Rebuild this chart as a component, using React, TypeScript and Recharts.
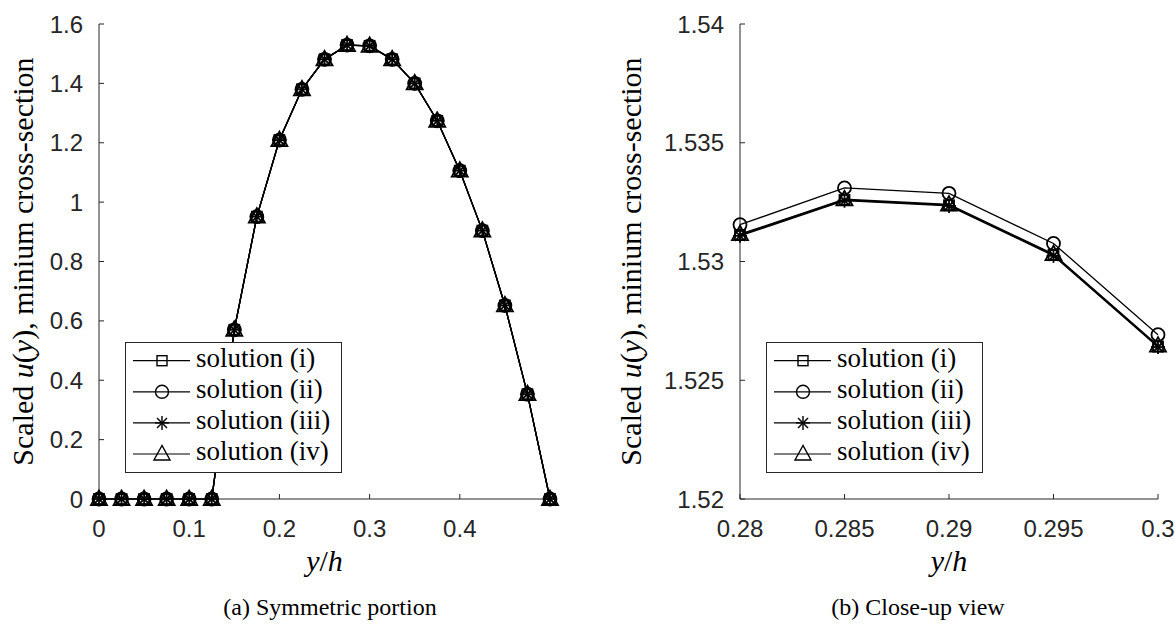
import { LineChart, Line, XAxis, YAxis, Legend } from "recharts";

// (a) half channel, sampled every 0.025 in y/h
const ySym = [
  0, 0.025, 0.05, 0.075, 0.1, 0.125, 0.15, 0.175, 0.2, 0.225, 0.25,
  0.275, 0.3, 0.325, 0.35, 0.375, 0.4, 0.425, 0.45, 0.475, 0.5,
];
// scaled u(y); the four solutions coincide at this scale
const uSym = [
  0, 0, 0, 0, 0, 0, 0.57, 0.951, 1.209, 1.38, 1.481,
  1.529, 1.5265, 1.481, 1.4, 1.274, 1.106, 0.904, 0.652, 0.353, 0,
];

// (b) close-up around the peak
const yZoom = [0.28, 0.285, 0.29, 0.295, 0.3];
const uZoomI = [1.53112, 1.53259, 1.53237, 1.53028, 1.52642];
const uZoomII = [1.53155, 1.5331, 1.53287, 1.53076, 1.52692];
const uZoomIII = [1.53108, 1.53256, 1.53234, 1.53024, 1.5264];
const uZoomIV = [1.53115, 1.53262, 1.5324, 1.53031, 1.52646];

const symTicksX = [0, 0.1, 0.2, 0.3, 0.4];
const symTicksY = [0, 0.2, 0.4, 0.6, 0.8, 1, 1.2, 1.4, 1.6];
const zoomTicksX = [0.28, 0.285, 0.29, 0.295, 0.3];
const zoomTicksY = [1.52, 1.525, 1.53, 1.535, 1.54];

type MarkerKind = "square" | "circle" | "asterisk" | "triangle";

const SERIES: { key: string; name: string; marker: MarkerKind }[] = [
  { key: "s1", name: "solution (i)", marker: "square" },
  { key: "s2", name: "solution (ii)", marker: "circle" },
  { key: "s3", name: "solution (iii)", marker: "asterisk" },
  { key: "s4", name: "solution (iv)", marker: "triangle" },
];

const symData = ySym.map((x, i) => ({
  x,
  s1: uSym[i],
  s2: uSym[i],
  s3: uSym[i],
  s4: uSym[i],
}));

const zoomData = yZoom.map((x, i) => ({
  x,
  s1: uZoomI[i],
  s2: uZoomII[i],
  s3: uZoomIII[i],
  s4: uZoomIV[i],
}));

const H = 626;
const AXIS = "#262626";
const SERIF = "'Liberation Serif'";
const SANS = "'Liberation Sans', Arial, Helvetica, sans-serif";

// serif text used for titles, captions and legend entries
const serifText = (size: number) => ({ fontFamily: SERIF, fontSize: size, fill: "#000" });

function Marker({ kind, cx, cy, sw = 1.5 }: { kind: MarkerKind; cx: number; cy: number; sw?: number }) {
  const st = { stroke: "#000", strokeWidth: sw, fill: "none" };
  if (kind === "square") return <rect x={cx - 5} y={cy - 5} width={10} height={10} {...st} />;
  if (kind === "circle") return <circle cx={cx} cy={cy} r={6.5} {...st} />;
  if (kind === "triangle")
    return <polygon points={`${cx},${cy - 8.5} ${cx - 8},${cy + 6} ${cx + 8},${cy + 6}`} {...st} />;
  return (
    <g {...st}>
      <line x1={cx - 7} y1={cy} x2={cx + 7} y2={cy} />
      <line x1={cx} y1={cy - 7} x2={cx} y2={cy + 7} />
      <line x1={cx - 5} y1={cy - 5} x2={cx + 5} y2={cy + 5} />
      <line x1={cx - 5} y1={cy + 5} x2={cx + 5} y2={cy - 5} />
    </g>
  );
}

function LegendBox({ payload }: any) {
  const items = payload ?? [];
  return (
    <svg width={217} height={131} style={{ display: "block" }}>
      <rect x={0.5} y={0.5} width={216} height={130} fill="#fff" stroke={AXIS} />
      {items.map((entry: any, i: number) => {
        const s = SERIES.find((d) => d.key === entry.dataKey) ?? SERIES[i];
        const cy = 18.7 + i * 31.1;
        return (
          <g key={s.key}>
            <line x1={8} x2={65} y1={cy} y2={cy} stroke="#000" strokeWidth={1.2} />
            <Marker kind={s.marker} cx={37} cy={cy} sw={1.4} />
            <text x={71} y={cy + 6} style={serifText(27)}>
              {entry.value}
            </text>
          </g>
        );
      })}
    </svg>
  );
}

function YTitle({ titleX }: any) {
  const midY = 261.5;
  return (
    <text
      x={titleX}
      y={midY}
      transform={`rotate(-90 ${titleX} ${midY})`}
      textAnchor="middle"
      style={serifText(30)}
    >
      {"Scaled "}
      <tspan fontStyle="italic">u</tspan>
      {"("}
      <tspan fontStyle="italic">y</tspan>
      {"), minium cross-section"}
    </text>
  );
}

function XTitles({ midX, captionX, caption }: any) {
  return (
    <g>
      <text x={midX} y={571} textAnchor="middle" style={serifText(30)}>
        <tspan fontStyle="italic">y</tspan>
        {"/"}
        <tspan fontStyle="italic">h</tspan>
      </text>
      <text x={captionX} y={615} textAnchor="middle" style={serifText(24)}>
        {caption}
      </text>
    </g>
  );
}

interface PanelProps {
  left: number;
  width: number;
  axisWidth: number;
  rightGap: number;
  data: any[];
  xDomain: [number, number];
  xTicks: number[];
  yDomain: [number, number];
  yTicks: number[];
  caption: string;
  captionX: number;
  titleX: number;
}

function Panel(p: PanelProps) {
  const plotW = p.width - p.axisWidth - p.rightGap;
  const tick = { fill: AXIS, fontSize: 24, fontFamily: SANS };
  return (
    <div style={{ position: "absolute", left: p.left, top: 0 }}>
      <LineChart
        width={p.width}
        height={H}
        data={p.data}
        margin={{ top: 24, right: p.rightGap, bottom: 0, left: 0 }}
      >
        <XAxis
          type="number"
          dataKey="x"
          domain={p.xDomain}
          ticks={p.xTicks}
          interval={0}
          height={127}
          tickSize={-5}
          tickMargin={26}
          stroke={AXIS}
          tick={tick}
          label={
            <XTitles midX={p.axisWidth + plotW / 2} captionX={p.captionX} caption={p.caption} />
          }
        />
        <YAxis
          type="number"
          domain={p.yDomain}
          ticks={p.yTicks}
          interval={0}
          width={p.axisWidth}
          tickSize={-5}
          tickMargin={21}
          stroke={AXIS}
          tick={tick}
          label={<YTitle titleX={p.titleX} />}
        />
        <Legend
          layout="horizontal"
          verticalAlign="middle"
          align="center"
          wrapperStyle={{ left: p.axisWidth + 26, top: 342, width: 217, height: 131 }}
          content={LegendBox}
        />
        {SERIES.map((s) => (
          <Line
            key={s.key}
            dataKey={s.key}
            name={s.name}
            type="linear"
            stroke="#000"
            strokeWidth={1.3}
            isAnimationActive={false}
            activeDot={false}
            dot={(d: any) => (
              <Marker key={`${s.key}-${d.index}`} kind={s.marker} cx={d.cx} cy={d.cy} sw={1.8} />
            )}
          />
        ))}
      </LineChart>
    </div>
  );
}

export default function App() {
  return (
    <div
      style={{
        position: "absolute",
        left: 0,
        top: 0,
        width: 1175,
        height: H,
        background: "#fff",
      }}
    >
      <Panel
        left={0}
        width={580}
        axisWidth={99}
        rightGap={30}
        data={symData}
        xDomain={[0, 0.5]}
        xTicks={symTicksX}
        yDomain={[0, 1.6]}
        yTicks={symTicksY}
        caption="(a) Symmetric portion"
        captionX={330}
        titleX={33}
      />
      <Panel
        left={580}
        width={595}
        axisWidth={160}
        rightGap={17}
        data={zoomData}
        xDomain={[0.28, 0.3]}
        xTicks={zoomTicksX}
        yDomain={[1.52, 1.54]}
        yTicks={zoomTicksY}
        caption="(b) Close-up view"
        captionX={338}
        titleX={61}
      />
    </div>
  );
}
